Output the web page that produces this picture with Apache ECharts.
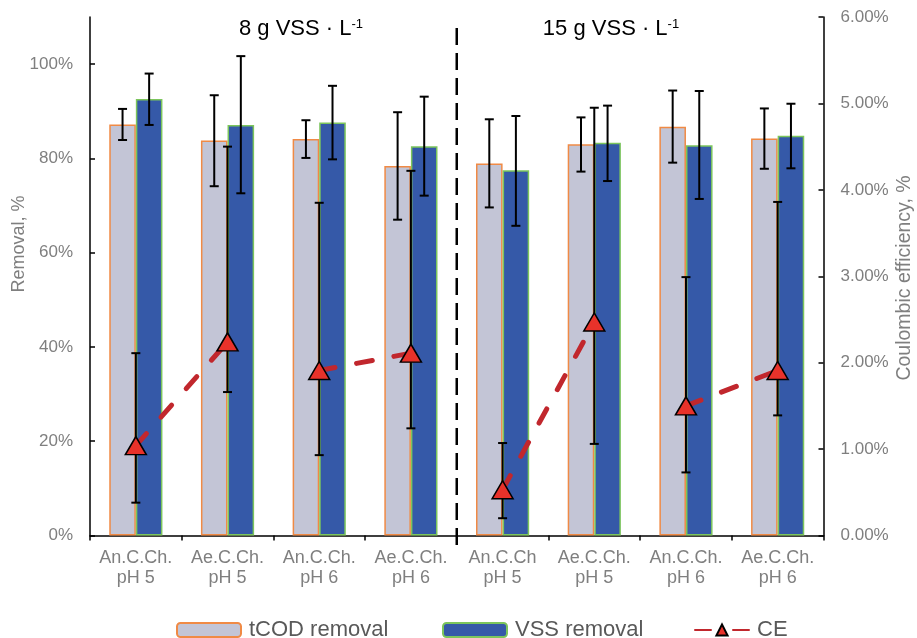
<!DOCTYPE html>
<html>
<head>
<meta charset="utf-8">
<script src="https://cdn.jsdelivr.net/npm/echarts@6/dist/echarts.min.js"></script>
<style>
html,body{margin:0;padding:0;background:#fff;}
#chart{width:917px;height:638px;}
</style>
</head>
<body>
<div id="chart"></div>
<script>
const categories = ['An.C.Ch.\npH 5','Ae.C.Ch.\npH 5','An.C.Ch.\npH 6','Ae.C.Ch.\npH 6','An.C.Ch\npH 5','Ae.C.Ch.\npH 5','An.C.Ch.\npH 6','Ae.C.Ch.\npH 6'];
const tcodRemoval = [87.2, 83.8, 84.1, 78.4, 78.9, 83.0, 86.7, 84.2];
const tcodLow     = [83.9, 74.1, 80.1, 67.0, 69.6, 77.2, 79.1, 77.8];
const tcodHigh    = [90.5, 93.4, 88.1, 89.8, 88.3, 88.7, 94.4, 90.6];
const vssRemoval  = [92.6, 87.1, 87.6, 82.6, 77.5, 83.3, 82.8, 84.8];
const vssLow      = [87.1, 72.6, 79.8, 72.1, 65.7, 75.2, 71.4, 77.9];
const vssHigh     = [98.0, 101.7, 95.4, 93.1, 89.0, 91.2, 94.3, 91.6];
const ceValues    = [1.04, 2.24, 1.91, 2.11, 0.53, 2.47, 1.50, 1.91];
const ceLow       = [0.38, 1.66, 0.93, 1.24, 0.20, 1.06, 0.73, 1.39];
const ceHigh      = [2.11, 4.50, 3.85, 4.22, 1.07, 4.95, 2.99, 3.86];
const cePairs     = [[0, 1], [2, 3], [4, 5], [6, 7]];
const leftTicks   = [0, 20, 40, 60, 80, 100];
const groupTitles = ['8 g VSS · L', '15 g VSS · L'];
const seriesNames = ['tCOD removal', 'VSS removal', 'CE'];

const FONT = '"Liberation Sans", Arial, sans-serif';
const GRAY = '#7f7f7f';

function errData(low, high) {
  return low.map((l, i) => [i, l, high[i]]);
}
function errRender(offsetFrac) {
  return function (params, api) {
    const i = api.value(0);
    const band = api.size([1, 0])[0];
    const x = api.coord([i, 0])[0] + band * offsetFrac;
    const yl = api.coord([i, api.value(1)])[1];
    const yh = api.coord([i, api.value(2)])[1];
    const cap = 4.5;
    const st = { stroke: '#000', lineWidth: 2 };
    return {
      type: 'group',
      children: [
        { type: 'line', shape: { x1: x, y1: yl, x2: x, y2: yh }, style: st },
        { type: 'line', shape: { x1: x - cap, y1: yh, x2: x + cap, y2: yh }, style: st },
        { type: 'line', shape: { x1: x - cap, y1: yl, x2: x + cap, y2: yl }, style: st }
      ]
    };
  };
}

const chart = echarts.init(document.getElementById('chart'), null, { renderer: 'canvas' });

const legendBase = {
  orient: 'horizontal',
  top: 619,
  padding: 0,
  itemWidth: 64,
  itemHeight: 14,
  textStyle: { fontFamily: FONT, fontSize: 22, color: '#595959', padding: [0, 0, 0, 3] },
  selectedMode: false
};

const ceSeries = cePairs.map(pair => ({
  name: seriesNames[2], type: 'line', yAxisIndex: 1, z: 5,
  data: ceValues.map((v, i) => (pair.indexOf(i) >= 0 ? v : '-')),
  connectNulls: false,
  symbol: 'triangle', symbolSize: [21, 18], showAllSymbol: true,
  lineStyle: { color: '#C1272D', width: 5, type: [16, 22], cap: 'round' },
  itemStyle: { color: '#E8322A', borderColor: '#000', borderWidth: 1.5 }
}));

const option = {
  animation: false,
  backgroundColor: '#fff',
  textStyle: { fontFamily: FONT },
  grid: { left: 90, right: 93.5, top: 17, bottom: 102.5, containLabel: false },
  legend: [
    Object.assign({}, legendBase, { left: 176, data: [seriesNames[0]] }),
    Object.assign({}, legendBase, { left: 442, data: [seriesNames[1]] }),
    Object.assign({}, legendBase, { left: 694, itemWidth: 54, data: [seriesNames[2]] })
  ],
  xAxis: {
    type: 'category',
    data: categories,
    axisLine: { lineStyle: { color: '#000', width: 1.5 } },
    axisTick: { show: true, inside: false, length: 5, lineStyle: { color: '#000', width: 1.5 } },
    axisLabel: { color: GRAY, fontSize: 18, lineHeight: 19.5, margin: 13, fontFamily: FONT, interval: 0 },
    splitLine: { show: false }
  },
  yAxis: [
    {
      type: 'value', min: 0, max: 110, interval: 20, position: 'left',
      axisLine: { show: true, lineStyle: { color: '#000', width: 1.5 } },
      axisTick: { show: true, inside: true, length: 5, customValues: leftTicks, lineStyle: { color: '#000', width: 1.5 } },
      axisLabel: { color: GRAY, fontSize: 17, margin: 17, fontFamily: FONT, customValues: leftTicks, formatter: v => v + '%' },
      splitLine: { show: false }
    },
    {
      type: 'value', min: 0, max: 6, interval: 1, position: 'right',
      axisLine: { show: true, lineStyle: { color: '#000', width: 1.5 } },
      axisTick: { show: true, inside: true, length: 5, lineStyle: { color: '#000', width: 1.5 } },
      axisLabel: { color: GRAY, fontSize: 17, margin: 17, fontFamily: FONT, formatter: v => v.toFixed(2) + '%' },
      splitLine: { show: false }
    }
  ],
  series: [
    {
      name: seriesNames[0], type: 'bar', yAxisIndex: 0, data: tcodRemoval,
      barWidth: '29%', barGap: '0%', z: 2,
      itemStyle: { color: '#C3C5D6', borderColor: '#F08A45', borderWidth: 1.5 }
    },
    {
      name: seriesNames[1], type: 'bar', yAxisIndex: 0, data: vssRemoval,
      barWidth: '29%', barGap: '0%', z: 2,
      itemStyle: { color: '#3559A8', borderColor: '#7CC55C', borderWidth: 1.5 }
    },
    {
      name: 'tCOD err', type: 'custom', yAxisIndex: 0, z: 3,
      data: errData(tcodLow, tcodHigh), encode: { x: 0, y: [1, 2] },
      renderItem: errRender(-0.145), silent: true
    },
    {
      name: 'VSS err', type: 'custom', yAxisIndex: 0, z: 3,
      data: errData(vssLow, vssHigh), encode: { x: 0, y: [1, 2] },
      renderItem: errRender(0.145), silent: true
    },
    {
      name: 'CE err', type: 'custom', yAxisIndex: 1, z: 4,
      data: errData(ceLow, ceHigh), encode: { x: 0, y: [1, 2] },
      renderItem: errRender(0), silent: true
    }
  ].concat(ceSeries)
};
chart.setOption(option);

const xa = chart.convertToPixel({ xAxisIndex: 0 }, 3);
const xb = chart.convertToPixel({ xAxisIndex: 0 }, 4);
const divX = (xa + xb) / 2;

const titleRich = {
  a: { fontSize: 22, fontFamily: FONT, fill: '#000' },
  s: { fontSize: 13, fontFamily: FONT, fill: '#000', verticalAlign: 'top', padding: [0, 0, 8, 0] }
};

chart.setOption({
  graphic: [
    {
      type: 'line', z: 10,
      shape: { x1: divX, y1: 28, x2: divX, y2: 553 },
      style: { stroke: '#000', lineWidth: 2.5, lineDash: [17, 8] }
    },
    {
      type: 'text', z: 10, x: 301, y: 29,
      style: { text: '{a|' + groupTitles[0] + '}{s|-1}', align: 'center', verticalAlign: 'middle', rich: titleRich }
    },
    {
      type: 'text', z: 10, x: 611, y: 29,
      style: { text: '{a|' + groupTitles[1] + '}{s|-1}', align: 'center', verticalAlign: 'middle', rich: titleRich }
    },
    {
      type: 'text', z: 10, x: 19, y: 244, rotation: Math.PI / 2,
      style: { text: 'Removal, %', align: 'center', verticalAlign: 'middle', fontSize: 18, fontFamily: FONT, fill: GRAY }
    },
    {
      type: 'text', z: 10, x: 905, y: 278, rotation: Math.PI / 2,
      style: { text: 'Coulombic efficiency, %', align: 'center', verticalAlign: 'middle', fontSize: 19.5, fontFamily: FONT, fill: GRAY }
    }
  ]
});
</script>
</body>
</html>
